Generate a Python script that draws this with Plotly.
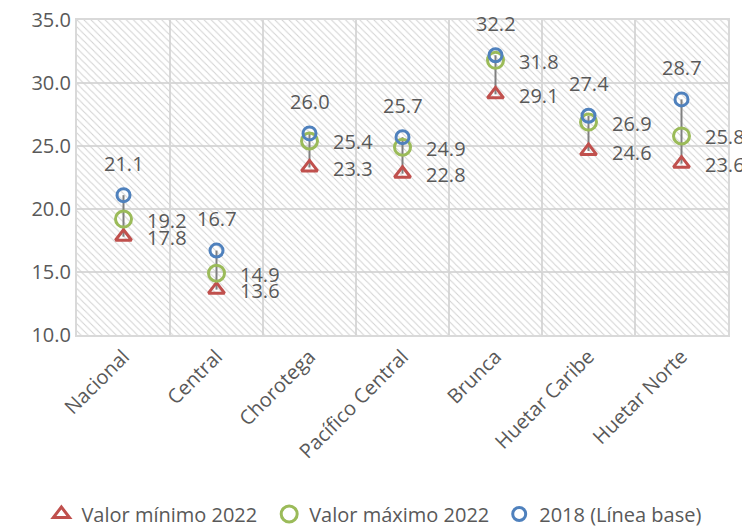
import plotly.graph_objects as go

regiones = ["Nacional", "Central", "Chorotega", "Pacífico Central", "Brunca", "Huetar Caribe", "Huetar Norte"]
valor_min_2022 = [17.8, 13.6, 23.3, 22.8, 29.1, 24.6, 23.6]
valor_max_2022 = [19.2, 14.9, 25.4, 24.9, 31.8, 26.9, 25.8]
linea_base_2018 = [21.1, 16.7, 26.0, 25.7, 32.2, 27.4, 28.7]
y_ticks = [10, 15, 20, 25, 30, 35]

gris_texto = "#595959"
gris_grid = "#d9d9d9"
fuente = "Open Sans"

fig = go.Figure()

# fondo rayado (Excel usa relleno de trama)
fig.add_trace(go.Bar(
    x=regiones,
    y=[y_ticks[-1] - y_ticks[0]] * len(regiones),
    base=y_ticks[0],
    width=1,
    marker=dict(color="rgba(255,255,255,0)", line=dict(width=0),
                pattern=dict(shape="\\", fgcolor="#d2d2d2", bgcolor="rgba(255,255,255,0)",
                             fgopacity=1, size=5, solidity=0.2)),
    hoverinfo="skip",
    showlegend=False,
))

# lineas entre minimo y maximo
xs, ys = [], []
for r, a, b, c in zip(regiones, valor_min_2022, valor_max_2022, linea_base_2018):
    xs += [r, r, None]
    ys += [min(a, b, c), max(a, b, c), None]
fig.add_trace(go.Scatter(
    x=xs, y=ys, mode="lines",
    line=dict(color="#808080", width=2),
    hoverinfo="skip", showlegend=False,
))

fig.add_trace(go.Scatter(
    x=regiones, y=valor_min_2022, name="Valor mínimo 2022", mode="markers",
    marker=dict(symbol="triangle-up-open", size=14, color="#C0504D", line=dict(width=3)),
    legend="legend",
))
fig.add_trace(go.Scatter(
    x=regiones, y=valor_max_2022, name="Valor máximo 2022", mode="markers",
    marker=dict(symbol="circle-open", size=16, color="#9BBB59", line=dict(width=3)),
    legend="legend2",
))
fig.add_trace(go.Scatter(
    x=regiones, y=linea_base_2018, name="2018 (Línea base)", mode="markers",
    marker=dict(symbol="circle-open", size=13, color="#4F81BD", line=dict(width=3)),
    legend="legend3",
))

# etiquetas de datos
etiqueta = dict(showarrow=False, font=dict(size=20, color=gris_texto, family=fuente))
for r, v in zip(regiones, linea_base_2018):
    fig.add_annotation(x=r, y=v, text=f"{v:.1f}", yanchor="middle", yshift=32, **etiqueta)
for serie in (valor_max_2022, valor_min_2022):
    for r, v in zip(regiones, serie):
        fig.add_annotation(x=r, y=v, text=f"{v:.1f}", xanchor="left", xshift=21,
                           yanchor="middle", yshift=-1, **etiqueta)

# una leyenda por serie para fijar la posicion de cada entrada
leyenda = dict(orientation="h", xref="container", xanchor="left",
               yref="container", y=0.025, yanchor="middle",
               font=dict(size=20, color=gris_texto))

fig.update_layout(
    width=742, height=519,
    margin=dict(l=69, r=22, t=12, b=192),
    paper_bgcolor="white",
    plot_bgcolor="white",
    font=dict(family=fuente, color=gris_texto, size=20),
    bargap=0,
    legend=dict(x=0.045, **leyenda),
    legend2=dict(x=0.352, **leyenda),
    legend3=dict(x=0.662, **leyenda),
    xaxis=dict(
        type="category", tickson="boundaries", showgrid=True, gridcolor=gris_grid, gridwidth=2,
        showline=True, linecolor=gris_grid, linewidth=2, mirror=True,
        tickangle=-45, ticks="", tickfont=dict(size=20, color=gris_texto),
        range=[-0.5, len(regiones) - 0.5], automargin=False,
    ),
    yaxis=dict(
        range=[y_ticks[0], y_ticks[-1]], tickvals=y_ticks, tickformat=".1f",
        showgrid=True, gridcolor=gris_grid, gridwidth=2,
        showline=True, linecolor=gris_grid, linewidth=2, mirror=True,
        zeroline=False, ticks="", tickfont=dict(size=20, color=gris_texto),
        automargin=False, ticklabeloverflow="allow",
    ),
)

fig.write_html("out.html")
